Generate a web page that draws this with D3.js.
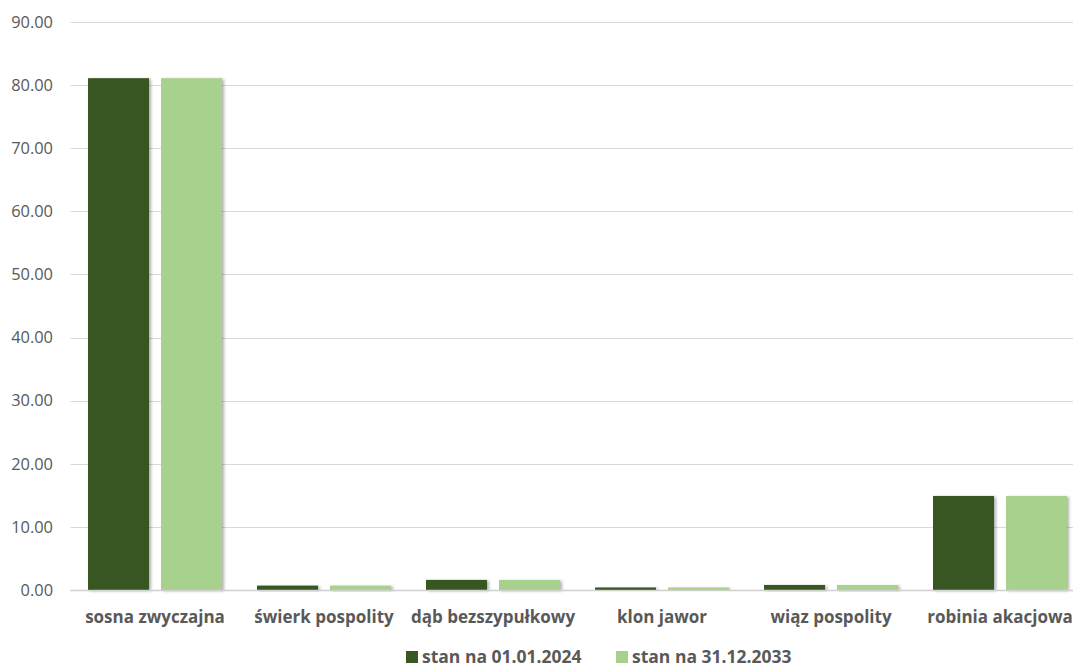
<!DOCTYPE html>
<html><head><meta charset="utf-8">
<script src="https://cdn.jsdelivr.net/npm/d3@7"></script>
<style>body{margin:0;background:#fff}svg{display:block}</style>
</head><body><svg id="c" width="1073" height="668"></svg>
<script>
const categories = ["sosna zwyczajna","świerk pospolity","dąb bezszypułkowy","klon jawor","wiąz pospolity","robinia akacjowa"];
const seriesNames = ["stan na 01.01.2024","stan na 31.12.2033"];
const values2024 = [81.1, 0.7, 1.6, 0.4, 0.8, 14.9];
const values2033 = [81.1, 0.7, 1.6, 0.4, 0.8, 14.9];
const yTicks = [0,10,20,30,40,50,60,70,80,90];
const colors = ["#385723","#a9d18e"];

const svg = d3.select("#c");
const font = "'Open Sans', 'Liberation Sans', sans-serif";
const mLeft = 70.5, mRight = 1084.5, mTop = 22, mBottom = 590;
const x = d3.scaleBand().domain(categories).range([mLeft,mRight]).paddingInner(0).paddingOuter(0);
const y = d3.scaleLinear().domain([0,90]).range([mBottom, mTop]);

const defs = svg.append("defs");
const f = defs.append("filter").attr("id","sh").attr("x","-20%").attr("y","-20%").attr("width","150%").attr("height","150%");
f.append("feDropShadow").attr("dx",2).attr("dy",1).attr("stdDeviation",1.5).attr("flood-color","#000").attr("flood-opacity",0.3);

// gridlines
svg.append("g").selectAll("line").data(yTicks.filter(d=>d>0)).join("line")
  .attr("x1",mLeft).attr("x2",1073).attr("y1",d=>Math.round(y(d))+0.5).attr("y2",d=>Math.round(y(d))+0.5)
  .attr("stroke","#d9d9d9").attr("stroke-width",1);

// y axis labels
const yAxis = d3.axisLeft(y).tickValues(yTicks).tickFormat(d3.format(".2f")).tickSize(0).tickPadding(17.5);
const ya = svg.append("g").attr("transform",`translate(${mLeft},0)`).call(yAxis);
ya.select(".domain").remove();
ya.selectAll("text").attr("font-family",font).attr("font-size",16.4).attr("fill","#595959");

// bars
const inner = d3.scaleBand().domain([0,1]).range([0,x.bandwidth()]).paddingInner(0.164).paddingOuter(0.24);
const series = [values2024, values2033];
series.forEach((vals,si)=>{
  svg.append("g").selectAll("rect").data(categories).join("rect")
    .attr("x",(d)=>x(d)+inner(si))
    .attr("width",inner.bandwidth())
    .attr("y",(d,i)=>y(vals[i]))
    .attr("height",(d,i)=>mBottom-y(vals[i]))
    .attr("fill",colors[si])
    .attr("filter","url(#sh)");
});

// baseline
svg.append("line").attr("x1",mLeft).attr("x2",1073).attr("y1",mBottom+0.5).attr("y2",mBottom+0.5)
  .attr("stroke","#d0d0d0").attr("stroke-width",1.5);

// x labels
const xAxis = d3.axisBottom(x).tickSize(0);
const xa = svg.append("g").attr("transform",`translate(0,${mBottom})`).call(xAxis);
xa.select(".domain").remove();
xa.selectAll("text").attr("y",33).attr("dy",null).attr("font-family",font).attr("font-size",17).attr("font-weight","bold").attr("fill","#595959");

// legend
const lg = svg.append("g");
const lx = [406, 616];
seriesNames.forEach((n,i)=>{
  lg.append("rect").attr("x",lx[i]).attr("y",651).attr("width",12).attr("height",12).attr("fill",colors[i]);
  lg.append("text").attr("x",lx[i]+16).attr("y",662.5).text(n)
    .attr("font-family",font).attr("font-size",17.5).attr("font-weight","bold").attr("fill","#595959");
});
</script></body></html>
